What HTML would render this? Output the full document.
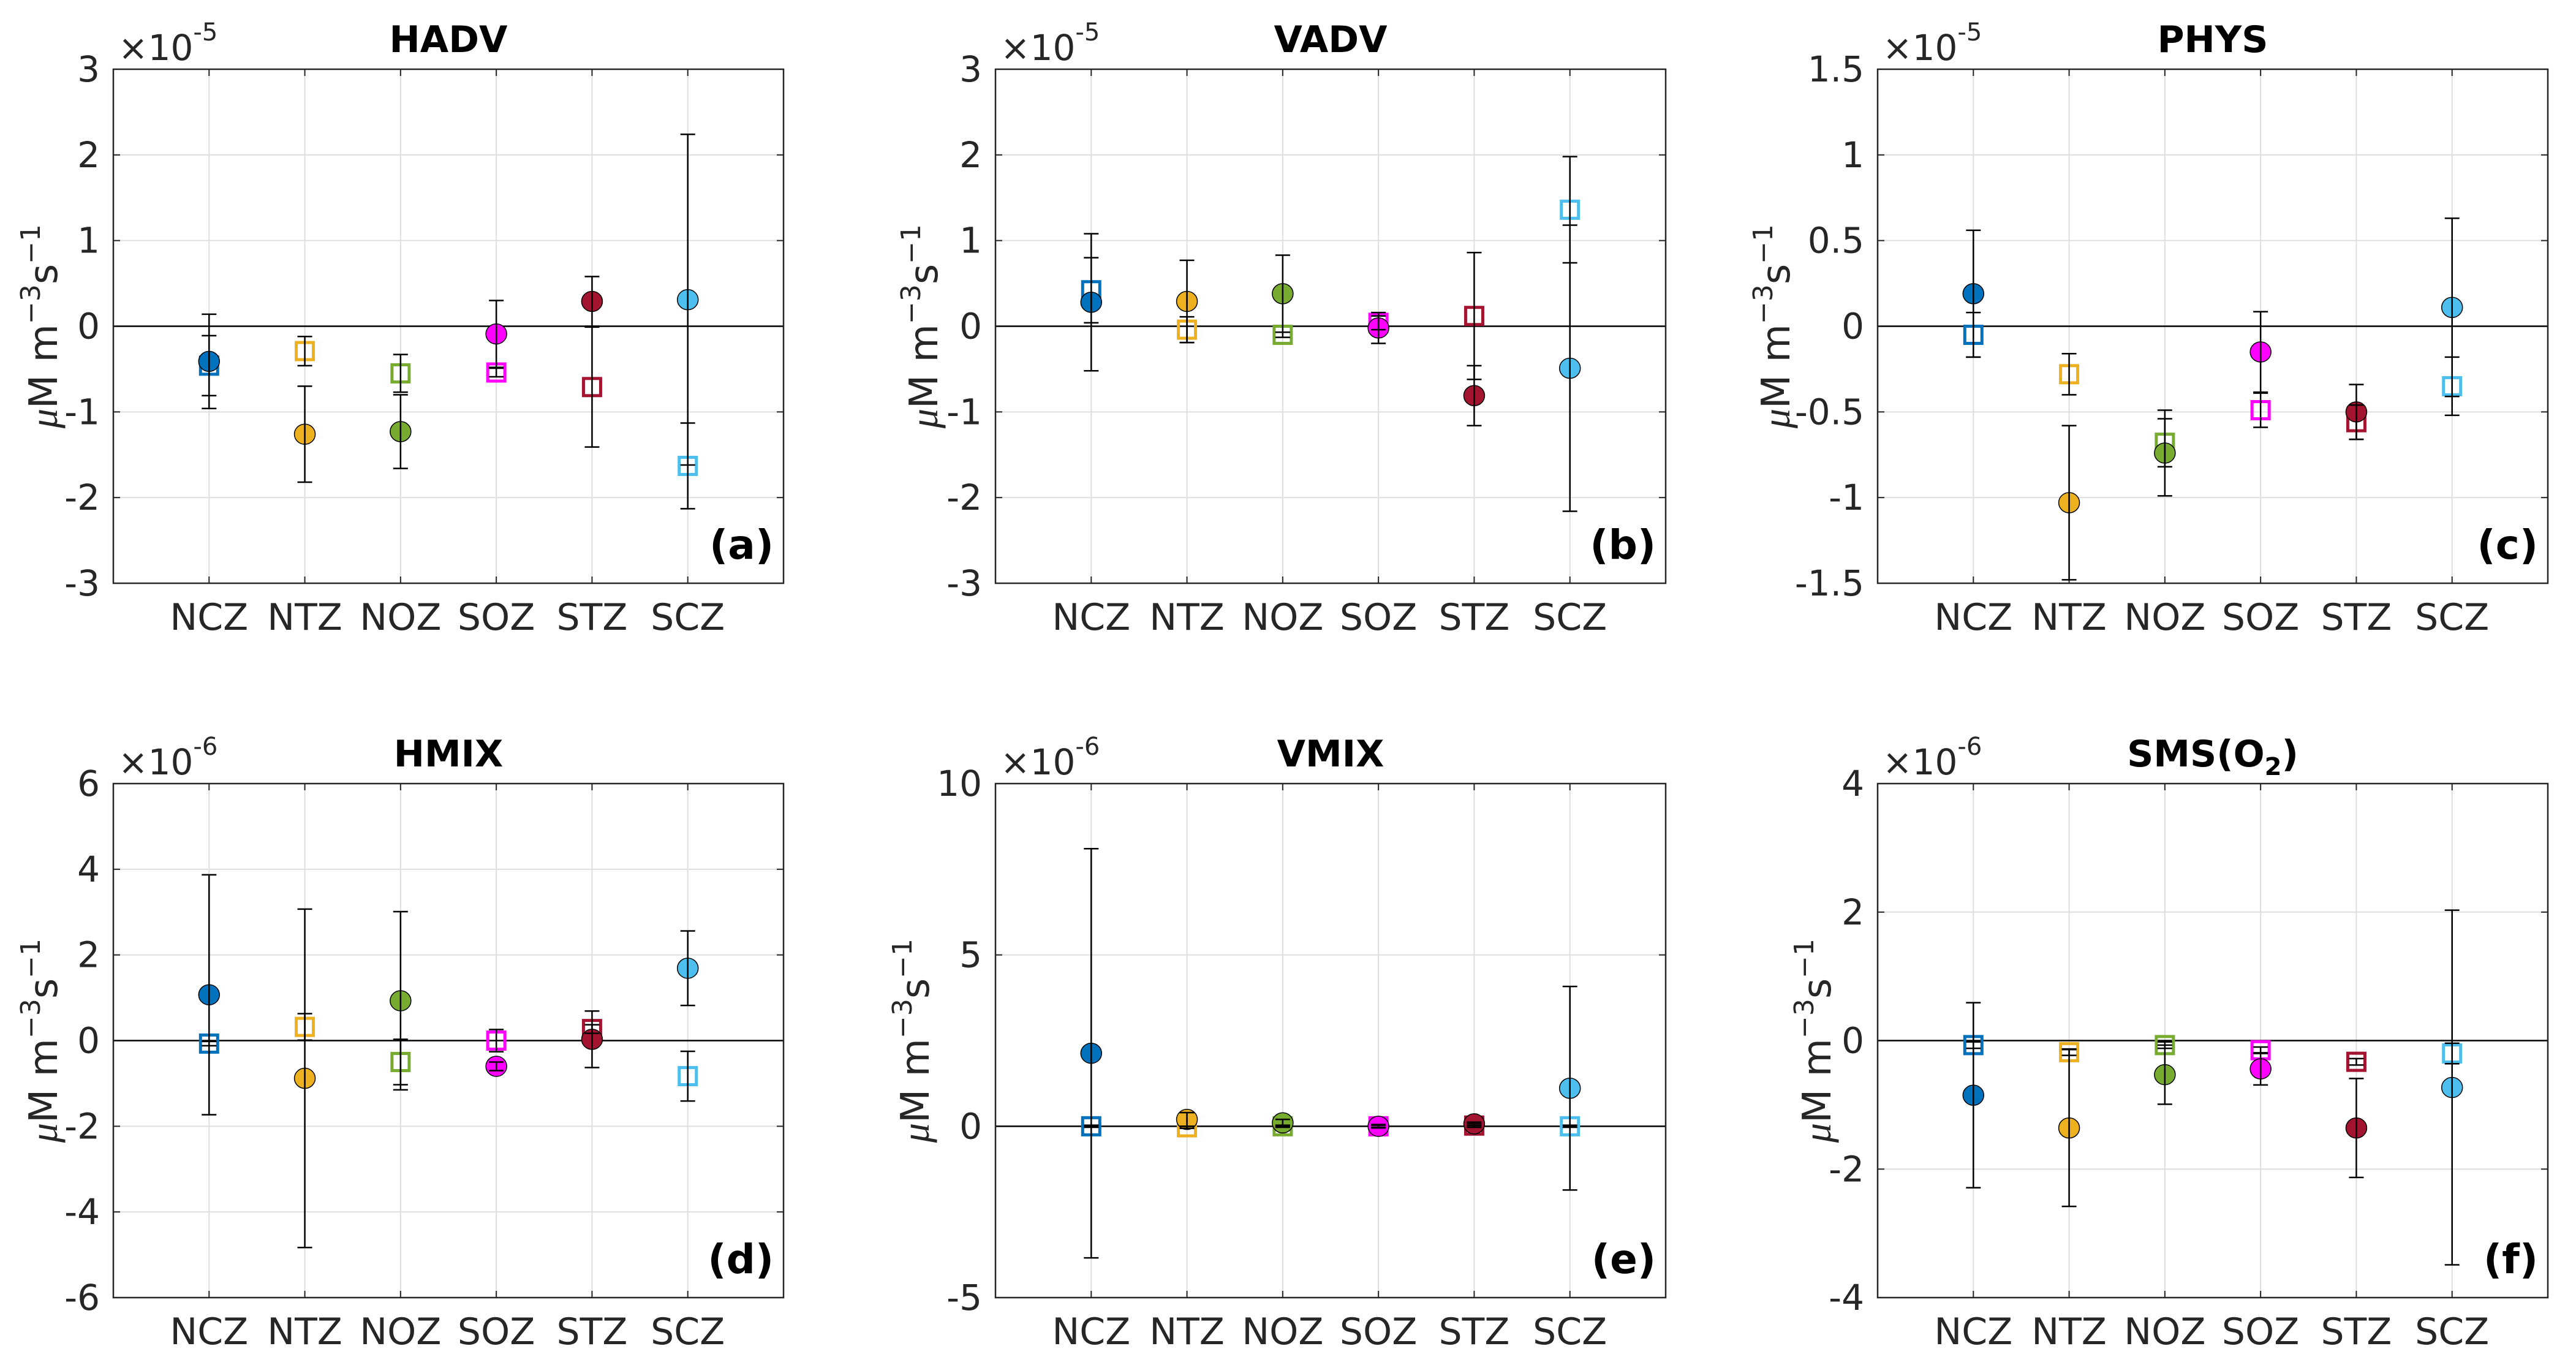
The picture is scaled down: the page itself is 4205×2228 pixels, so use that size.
<!DOCTYPE html>
<html><head><meta charset="utf-8"><style>
html,body{margin:0;padding:0;background:#fff}
svg{display:block}
text{font-family:"DejaVu Sans","Liberation Sans",sans-serif;fill:#262626}
</style></head><body>
<svg id="fig" width="4205" height="2228" viewBox="0 0 4205 2228" xmlns="http://www.w3.org/2000/svg"></svg>
<script>
const categories = ["NCZ","NTZ","NOZ","SOZ","STZ","SCZ"];
const colors = ["#0072BD","#EDB120","#77AC30","#FF00FF","#A2142F","#4DBEEE"];
// panel (a) HADV x1e-5
const hadvCircle = [-0.41,-1.26,-1.23,-0.09,0.29,0.31];
const hadvCircleErr = [0.55,0.56,0.43,0.39,0.29,1.93];
const hadvSquare = [-0.46,-0.29,-0.55,-0.54,-0.71,-1.63];
const hadvSquareErr = [0.35,0.17,0.22,0.05,0.70,0.50];
// panel (b) VADV x1e-5
const vadvCircle = [0.28,0.29,0.38,-0.02,-0.81,-0.49];
const vadvCircleErr = [0.80,0.48,0.45,0.18,0.35,1.67];
const vadvSquare = [0.42,-0.04,-0.10,0.04,0.12,1.36];
const vadvSquareErr = [0.38,0.15,0.03,0.08,0.74,0.62];
// panel (c) PHYS x1e-5
const physCircle = [0.19,-1.03,-0.74,-0.15,-0.50,0.11];
const physCircleErr = [0.37,0.45,0.25,0.235,0.16,0.52];
const physSquare = [-0.05,-0.28,-0.68,-0.49,-0.56,-0.35];
const physSquareErr = [0.13,0.12,0.14,0.10,0.10,0.17];
// panel (d) HMIX x1e-6
const hmixCircle = [1.07,-0.88,0.93,-0.60,0.03,1.69];
const hmixCircleErr = [2.80,3.95,2.08,0.10,0.66,0.87];
const hmixSquare = [-0.07,0.32,-0.50,0.00,0.27,-0.83];
const hmixSquareErr = [0.05,0.31,0.53,0.26,0.10,0.58];
// panel (e) VMIX x1e-6
const vmixCircle = [2.13,0.20,0.10,0.00,0.07,1.11];
const vmixCircleErr = [5.97,0.20,0.10,0.05,0.05,2.97];
const vmixSquare = [0.00,-0.03,0.00,0.00,0.02,0.00];
const vmixSquareErr = [0.03,0.03,0.03,0.03,0.05,0.03];
// panel (f) SMS(O2) x1e-6
const smsCircle = [-0.85,-1.36,-0.53,-0.44,-1.36,-0.73];
const smsCircleErr = [1.44,1.22,0.46,0.25,0.77,2.76];
const smsSquare = [-0.07,-0.18,-0.07,-0.15,-0.33,-0.20];
const smsSquareErr = [0.05,0.05,0.05,0.05,0.05,0.16];

const ticksAB = ["-3","-2","-1","0","1","2","3"];
const ticksC = ["-1.5","-1","-0.5","0","0.5","1","1.5"];
const ticksD = ["-6","-4","-2","0","2","4","6"];
const ticksE = ["-5","0","5","10"];
const ticksF = ["-4","-2","0","2","4"];

const panels = [
 {name:"hadv",title:"HADV",tag:"(a)",exp:"-5",x:185,y:113,ylim:[-3,3],ticks:ticksAB,c:hadvCircle,ce:hadvCircleErr,s:hadvSquare,se:hadvSquareErr,lab:92},
 {name:"vadv",title:"VADV",tag:"(b)",exp:"-5",x:1625,y:113,ylim:[-3,3],ticks:ticksAB,c:vadvCircle,ce:vadvCircleErr,s:vadvSquare,se:vadvSquareErr,lab:95},
 {name:"phys",title:"PHYS",tag:"(c)",exp:"-5",x:3065,y:113,ylim:[-1.5,1.5],ticks:ticksC,c:physCircle,ce:physCircleErr,s:physSquare,se:physSquareErr,lab:144},
 {name:"hmix",title:"HMIX",tag:"(d)",exp:"-6",x:185,y:1279,ylim:[-6,6],ticks:ticksD,c:hmixCircle,ce:hmixCircleErr,s:hmixSquare,se:hmixSquareErr,lab:92},
 {name:"vmix",title:"VMIX",tag:"(e)",exp:"-6",x:1625,y:1279,ylim:[-5,10],ticks:ticksE,c:vmixCircle,ce:vmixCircleErr,s:vmixSquare,se:vmixSquareErr,lab:109},
 {name:"sms",title:"SMS(O2)",tag:"(f)",exp:"-6",x:3065,y:1279,ylim:[-4,4],ticks:ticksF,c:smsCircle,ce:smsCircleErr,s:smsSquare,se:smsSquareErr,lab:77}
];
const W=1094,H=839;
const NS="http://www.w3.org/2000/svg";
const fig=document.getElementById('fig');
function mk(tag,attrs,parent){const e=document.createElementNS(NS,tag);for(const k in attrs)e.setAttribute(k,attrs[k]);parent.appendChild(e);return e;}

panels.forEach(p=>{
  const g=mk('g',{},fig);
  
  
  const xs=i=>p.x+(i+1)*W/7;
  const ys=v=>p.y+H-(v-p.ylim[0])/(p.ylim[1]-p.ylim[0])*H;
  categories.forEach((c,i)=>{
    const l=mk('line',{x1:xs(i),x2:xs(i),y1:p.y,y2:p.y+H,stroke:'#dfdfdf','stroke-width':2},g);
    
    
  });
  p.ticks.forEach(t=>{
    const v=parseFloat(t),y=ys(v);
    const l=mk('line',{x1:p.x,x2:p.x+W,y1:y,y2:y,stroke:'#dfdfdf','stroke-width':2},g);
    
    
    mk('line',{x1:p.x,x2:p.x+11,y1:y,y2:y,stroke:'#262626','stroke-width':2},g);
    mk('line',{x1:p.x+W-11,x2:p.x+W,y1:y,y2:y,stroke:'#262626','stroke-width':2},g);
    const tx=mk('text',{x:p.x-22,y:y+20,'text-anchor':'end','font-size':58},g);
    tx.textContent=t;
    
    
  });
  categories.forEach((c,i)=>{
    mk('line',{x1:xs(i),x2:xs(i),y1:p.y,y2:p.y+11,stroke:'#262626','stroke-width':2},g);
    mk('line',{x1:xs(i),x2:xs(i),y1:p.y+H-11,y2:p.y+H,stroke:'#262626','stroke-width':2},g);
    const tx=mk('text',{x:xs(i),y:p.y+H+76,'text-anchor':'middle','font-size':60},g);
    tx.textContent=c;
    
    
  });
  const z=mk('line',{x1:p.x,x2:p.x+W,y1:ys(0),y2:ys(0),stroke:'#000','stroke-width':2.5},g);
  
  
  categories.forEach((c,i)=>{
    const sq=mk('rect',{x:xs(i)-14,y:ys(p.s[i])-14,width:28,height:28,fill:'none',stroke:colors[i],'stroke-width':5},g);
    
    
  });
  categories.forEach((c,i)=>{
    const ci=mk('ellipse',{cx:xs(i),cy:ys(p.c[i]),rx:17,ry:16.5,fill:colors[i],stroke:'#000','stroke-width':1.5},g);
    
    
  });
  categories.forEach((c,i)=>{
    [[p.c[i],p.ce[i],'circle'],[p.s[i],p.se[i],'square']].forEach(([v,e,k])=>{
      const eg=mk('g',{stroke:'#000','stroke-width':2.5},g);
      
      
      const x=xs(i),y1=ys(v+e),y2=ys(v-e);
      mk('line',{x1:x,x2:x,y1:y1,y2:y2},eg);
      mk('line',{x1:x-12,x2:x+12,y1:y1,y2:y1},eg);
      mk('line',{x1:x-12,x2:x+12,y1:y2,y2:y2},eg);
    });
  });
  const b=mk('rect',{x:p.x,y:p.y,width:W,height:H,fill:'none',stroke:'#262626','stroke-width':2.5},g);
  
  
  const t=mk('text',{x:p.x+W/2,y:p.y-28,'text-anchor':'middle','font-size':60,'font-weight':'bold'},g);
  t.style.fill='#000';
  if(p.title==="SMS(O2)"){t.innerHTML='SMS(O<tspan font-size="40" dy="14">2</tspan><tspan dy="-14">)</tspan>';}
  else t.textContent=p.title;
  
  
  const ex=mk('text',{x:p.x+8,y:p.y-15,'font-size':58},g);
  ex.innerHTML='×10<tspan font-size="40" dy="-32">'+p.exp+'</tspan>';
  
  
  const tg=mk('text',{x:p.x+W-16,y:p.y+H-40,'text-anchor':'end','font-size':66,'font-weight':'bold'},g);
  tg.style.fill='#000';
  tg.textContent=p.tag;
  
  
  const lx=p.x-p.lab, ly=p.y+H/2;
  const yl=mk('text',{x:lx,y:ly,'text-anchor':'middle','font-size':64,transform:'rotate(-90 '+lx+' '+ly+')'},g);
  yl.innerHTML='<tspan font-family="Liberation Serif" font-style="italic">μ</tspan>M m<tspan font-size="44" dy="-28">−3</tspan><tspan dy="28">s</tspan><tspan font-size="44" dy="-28">−1</tspan>';
  
  
});
</script>
</body></html>
